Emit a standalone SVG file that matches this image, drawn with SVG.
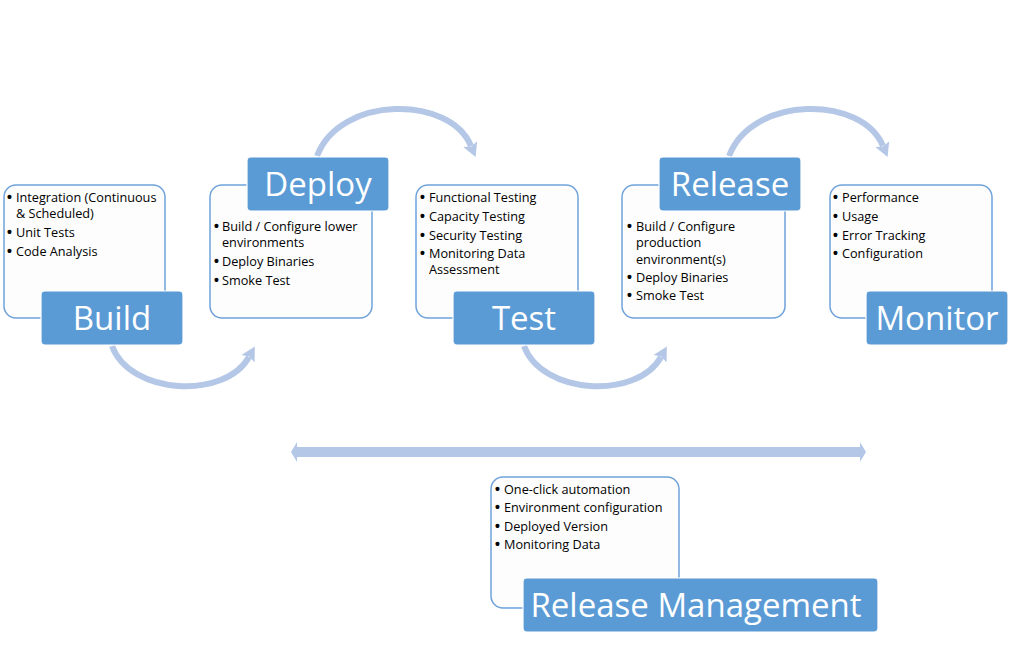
<svg xmlns="http://www.w3.org/2000/svg" width="1024" height="646" viewBox="0 0 1024 646">
<style>
.box{fill:#FDFDFD;stroke:#6FA2DA;stroke-width:1.5}
.lbl{fill:#5B9BD5;stroke:#FFFFFF;stroke-width:1.2}
.lt{font-family:"Open Sans","Liberation Sans",sans-serif;font-size:33px;fill:#FFFFFF;text-anchor:middle}
.bt{font-family:"Open Sans","Liberation Sans",sans-serif;font-size:12.7px;fill:#000000}
.bu{font-family:"Liberation Sans",sans-serif;font-size:14px;font-weight:bold;fill:#000000}
.arc{fill:none;stroke:#B4C7E7;stroke-width:6;marker-end:url(#ah)}
</style>
<defs>
<marker id="ah" markerUnits="userSpaceOnUse" markerWidth="18" markerHeight="18" refX="2" refY="9" orient="auto">
<path d="M0,1.5 L14,9 L0,16.5 L2.5,9 Z" fill="#B4C7E7"/>
</marker>
</defs>
<rect width="1024" height="646" fill="#FFFFFF"/>
<g id="connectors">
<path class="arc" d="M112,346 C130,395 225,400 249,357"/>
<path class="arc" d="M317,156 C340,95 450,95 471,146"/>
<path class="arc" d="M524,346 C542,395 637,400 661,357"/>
<path class="arc" d="M729,156 C752,95 862,95 883,146"/>
<path d="M291,452 L297,442 L297,447 L860,447 L860,442 L866,452 L860,462 L860,457 L297,457 L297,462 Z" fill="#B4C7E7"/>
</g>
<g id="build">
<rect class="box" x="4" y="185" width="161" height="133" rx="12"/>
<text class="bu" x="7" y="202">•</text><text class="bt" x="16" y="202">Integration (Continuous</text>
<text class="bt" x="16" y="218">&amp; Scheduled)</text>
<text class="bu" x="7" y="237">•</text><text class="bt" x="16" y="237">Unit Tests</text>
<text class="bu" x="7" y="256">•</text><text class="bt" x="16" y="256">Code Analysis</text>
<rect class="lbl" x="41" y="291" width="142" height="54" rx="4"/>
<text class="lt" x="112" y="330">Build</text>
</g>
<g id="deploy">
<rect class="box" x="210" y="185" width="162" height="133" rx="12"/>
<text class="bu" x="214" y="231">•</text><text class="bt" x="222" y="231">Build / Configure lower</text>
<text class="bt" x="222" y="247">environments</text>
<text class="bu" x="214" y="266">•</text><text class="bt" x="222" y="266">Deploy Binaries</text>
<text class="bu" x="214" y="285">•</text><text class="bt" x="222" y="285">Smoke Test</text>
<rect class="lbl" x="247" y="157" width="142" height="54" rx="4"/>
<text class="lt" x="318" y="196">Deploy</text>
</g>
<g id="test">
<rect class="box" x="416" y="185" width="162" height="133" rx="12"/>
<text class="bu" x="420" y="202">•</text><text class="bt" x="429" y="202">Functional Testing</text>
<text class="bu" x="420" y="221">•</text><text class="bt" x="429" y="221">Capacity Testing</text>
<text class="bu" x="420" y="240">•</text><text class="bt" x="429" y="240">Security Testing</text>
<text class="bu" x="420" y="258">•</text><text class="bt" x="429" y="258">Monitoring Data</text>
<text class="bt" x="429" y="274">Assessment</text>
<rect class="lbl" x="453" y="291" width="142" height="54" rx="4"/>
<text class="lt" x="524" y="330">Test</text>
</g>
<g id="release">
<rect class="box" x="622" y="185" width="163" height="133" rx="12"/>
<text class="bu" x="627" y="231">•</text><text class="bt" x="636" y="231">Build / Configure</text>
<text class="bt" x="636" y="247">production</text>
<text class="bt" x="636" y="264">environment(s)</text>
<text class="bu" x="627" y="282">•</text><text class="bt" x="636" y="282">Deploy Binaries</text>
<text class="bu" x="627" y="300">•</text><text class="bt" x="636" y="300">Smoke Test</text>
<rect class="lbl" x="659" y="157" width="142" height="54" rx="4"/>
<text class="lt" x="730" y="196">Release</text>
</g>
<g id="monitor">
<rect class="box" x="830" y="185" width="162" height="133" rx="12"/>
<text class="bu" x="833" y="202">•</text><text class="bt" x="842" y="202">Performance</text>
<text class="bu" x="833" y="221">•</text><text class="bt" x="842" y="221">Usage</text>
<text class="bu" x="833" y="240">•</text><text class="bt" x="842" y="240">Error Tracking</text>
<text class="bu" x="833" y="258">•</text><text class="bt" x="842" y="258">Configuration</text>
<rect class="lbl" x="866" y="291" width="142" height="54" rx="4"/>
<text class="lt" x="937" y="330">Monitor</text>
</g>
<g id="release-management">
<rect class="box" x="491" y="477" width="188" height="131" rx="12"/>
<text class="bu" x="495" y="494">•</text><text class="bt" x="504" y="494">One-click automation</text>
<text class="bu" x="495" y="512">•</text><text class="bt" x="504" y="512">Environment configuration</text>
<text class="bu" x="495" y="531">•</text><text class="bt" x="504" y="531">Deployed Version</text>
<text class="bu" x="495" y="549">•</text><text class="bt" x="504" y="549">Monitoring Data</text>
<rect class="lbl" x="523" y="578" width="355" height="54" rx="4"/>
<text class="lt" x="696" y="617">Release Management</text>
</g>
</svg>
